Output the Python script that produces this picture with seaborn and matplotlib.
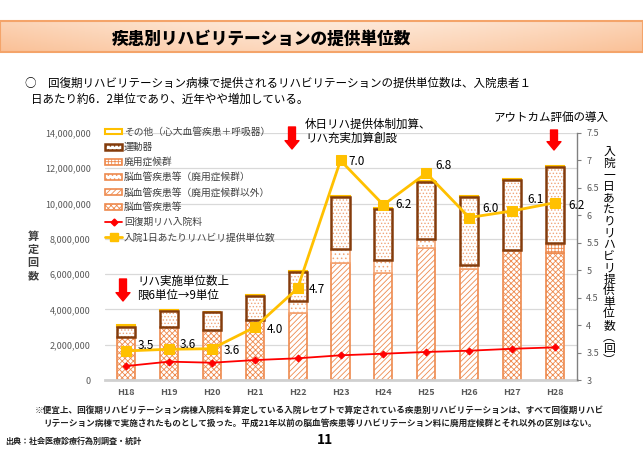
import numpy as np
import matplotlib
matplotlib.use('Agg')
import matplotlib.pyplot as plt
import seaborn as sns
from matplotlib.patches import Patch, Rectangle, FancyArrowPatch
from matplotlib.lines import Line2D
from matplotlib.ticker import FuncFormatter

years = ['H18', 'H19', 'H20', 'H21', 'H22', 'H23', 'H24', 'H25', 'H26', 'H27', 'H28']

# 算定回数 (百万回)
cerebro = [2.45, 3.02, 2.83, 3.40, 0, 0, 0, 0, 0, 7.37, 7.18]
cerebro_other = [0, 0, 0, 0, 3.82, 6.61, 6.05, 7.46, 6.29, 0, 0]
cerebro_disuse = [0, 0, 0, 0, 0.65, 0.79, 0.75, 0.53, 0.23, 0, 0]
disuse = [0, 0, 0, 0, 0, 0, 0, 0, 0, 0, 0.57]
locomotor = [0.57, 0.91, 1.00, 1.38, 1.63, 2.98, 2.87, 3.25, 3.87, 3.97, 4.31]
others = [0.10, 0.03, 0.03, 0.03, 0.08, 0.06, 0.06, 0.06, 0.06, 0.06, 0.06]
ward_fee = [0.79, 1.04, 0.98, 1.13, 1.23, 1.40, 1.49, 1.59, 1.66, 1.77, 1.85]

# 入院1日あたりリハビリ提供単位数
units_per_day = [3.53, 3.56, 3.57, 3.96, 4.67, 7.00, 6.19, 6.77, 5.96, 6.08, 6.23]

W, H = 643, 454
ORANGE = '#EE8A4E'
BROWN = '#843C0C'
YELLOW = '#FFC000'
GRAY = '#595959'

sns.set_theme(style='white')
plt.rcParams['font.family'] = ['Noto Sans CJK JP', 'DejaVu Sans']
plt.rcParams['hatch.linewidth'] = 0.6

fig = plt.figure(figsize=(W / 100, H / 100), dpi=100)

# title band
bax = fig.add_axes([0, 1 - 52 / H, 1, 31 / H])
gx = np.abs(np.linspace(-1, 1, 300))
gy = np.linspace(0, 1, 30)[:, None]
light = np.array([254, 234, 218]) / 255
dark = np.array([250, 192, 150]) / 255
t = np.clip(0.55 * gx[None, :] ** 1.5 + 0.45 * gy, 0, 1)
grad = light[None, None, :] * (1 - t[..., None]) + dark[None, None, :] * t[..., None]
bax.imshow(grad, aspect='auto', extent=[0, 1, 0, 1])
bax.add_patch(Rectangle((0, 0), 1, 1, fill=False, edgecolor='#F4A46A', lw=1.5,
                        transform=bax.transAxes, clip_on=False))
bax.set_axis_off()
fig.text(261 / W, 1 - 39 / H, '疾患別リハビリテーションの提供単位数', ha='center', va='center',
         fontsize=12, fontweight='heavy', color='black')

fig.text(25 / W, 1 - 83 / H, '○　回復期リハビリテーション病棟で提供されるリハビリテーションの提供単位数は、入院患者１',
         ha='left', va='center', fontsize=8.3, color='black')
fig.text(31 / W, 1 - 99 / H, '日あたり約6．2単位であり、近年やや増加している。',
         ha='left', va='center', fontsize=8.3, color='black')

ax = fig.add_axes([104.5 / W, (H - 380) / H, 472 / W, 247 / H])
ax2 = ax.twinx()

xs = np.arange(len(years))
bw = 0.42
scale = 1e6

layers = [
    (cerebro, dict(facecolor='white', edgecolor=ORANGE, hatch='xxxxxx', lw=1.2)),
    (cerebro_other, dict(facecolor='white', edgecolor=ORANGE, hatch='//////', lw=1.2)),
    (cerebro_disuse, dict(facecolor='white', edgecolor='#F4A574', hatch='....', lw=1.2)),
    (disuse, dict(facecolor='white', edgecolor=ORANGE, hatch='+++++', lw=1.2)),
    (locomotor, dict(facecolor='white', edgecolor='#EFA57A', hatch='.....', lw=0)),
    (others, dict(facecolor='white', edgecolor=YELLOW, lw=1.5)),
]
bottom = np.zeros(len(years))
for vals, style in layers:
    v = np.array(vals) * scale
    m = v > 0
    ax.bar(xs[m], v[m], bottom=bottom[m], width=bw, zorder=2, **style)
    if vals is locomotor:
        ax.bar(xs[m], v[m], bottom=bottom[m], width=bw, zorder=2.5,
               facecolor='none', edgecolor=BROWN, lw=1.8)
    bottom += v

sns.lineplot(x=xs, y=np.array(ward_fee) * scale, ax=ax, color='red', lw=1.3,
             marker='D', markersize=3.5, markeredgecolor='red', zorder=4)

ax.set_xlim(-0.5, len(years) - 0.5)
ax.set_ylim(0, 14e6)
ax.set_yticks(np.arange(0, 14.1e6, 2e6))
ax.yaxis.set_major_formatter(FuncFormatter(lambda v, p: f'{v:,.0f}'))
ax.yaxis.grid(True, color='#D9D9D9', lw=0.9)
ax.set_axisbelow(True)
ax.set_xticks(xs)
ax.set_xticklabels(years, fontweight='bold')
ax.tick_params(axis='y', length=0, labelsize=6.5, labelcolor=GRAY, pad=10)
ax.tick_params(axis='x', length=0, labelsize=6.5, labelcolor=GRAY, pad=6)
for s in ['left', 'top', 'right']:
    ax.spines[s].set_visible(False)
ax.spines['bottom'].set_color('#D0D0D0')
ax.spines['bottom'].set_linewidth(2)

sns.lineplot(x=xs, y=units_per_day, ax=ax2, color=YELLOW, lw=2, marker='s',
             markersize=6.5, markeredgecolor=YELLOW, zorder=5)
ax2.set_ylim(3, 7.5)
ax2.set_yticks(np.arange(3, 7.51, 0.5))
ax2.yaxis.set_major_formatter(FuncFormatter(lambda v, p: f'{v:g}'))
ax2.tick_params(axis='y', length=3, color='#808080', labelsize=6.5, labelcolor=GRAY, pad=4, width=0.8)
for s in ['left', 'top', 'bottom']:
    ax2.spines[s].set_visible(False)
ax2.spines['right'].set_color('#808080')
ax2.spines['right'].set_linewidth(1)

label_offsets = [(12, 5), (11, 5), (12, -2), (12, -2), (11, -1), (8, -1),
                 (12, 0), (9, 8), (13, 9), (15, 11), (13, -3)]
for i, v in enumerate(units_per_day):
    dx, dy = label_offsets[i]
    ax2.annotate(f'{v:.1f}', (xs[i], v), xytext=(dx * 0.72, dy * 0.72), textcoords='offset points',
                 ha='left', va='center', fontsize=8.5, color='black', zorder=6)

# legend
handles = [
    Patch(facecolor='white', edgecolor=YELLOW, lw=1.5),
    Patch(facecolor='white', edgecolor=BROWN, hatch='....', lw=1.8),
    Patch(facecolor='white', edgecolor=ORANGE, hatch='+++++', lw=1.2),
    Patch(facecolor='white', edgecolor=ORANGE, hatch='....', lw=1.2),
    Patch(facecolor='white', edgecolor=ORANGE, hatch='//////', lw=1.2),
    Patch(facecolor='white', edgecolor=ORANGE, hatch='xxxxxx', lw=1.2),
    Line2D([], [], color='red', lw=1.3, marker='D', markersize=3.5),
    Line2D([], [], color=YELLOW, lw=2, marker='s', markersize=5.5),
]
labels = ['その他（心大血管疾患＋呼吸器）', '運動器', '廃用症候群', '脳血管疾患等（廃用症候群）',
          '脳血管疾患等（廃用症候群以外）', '脳血管疾患等', '回復期リハ入院料', '入院1日あたりリハビリ提供単位数']
leg = ax2.legend(handles, labels, loc='upper left', bbox_to_anchor=(105 / W, 1 - 127 / H),
                 bbox_transform=fig.transFigure, frameon=False, fontsize=7, handlelength=1.75,
                 handleheight=0.55, labelspacing=0.52, handletextpad=0.2, borderpad=0, borderaxespad=0)
for txt in leg.get_texts():
    txt.set_color('#404040')

# axis titles (vertical)
fig.text(33 / W, 1 - 256 / H, '\n'.join('算定回数'), ha='center', va='center', fontsize=8,
         fontweight='bold', color='#404040', linespacing=1.0)
fig.text(609 / W, 1 - 256 / H, '\n'.join('入院一日あたりリハビリ提供単位数') + '\n︵\n回\n︶',
         ha='center', va='center', fontsize=8.5, color='black', linespacing=0.86)


def down_arrow(x, y0, y1):
    fig.add_artist(FancyArrowPatch((x / W, 1 - y0 / H), (x / W, 1 - y1 / H), transform=fig.transFigure,
                                   arrowstyle='simple,head_width=1.0,head_length=0.6,tail_width=0.5',
                                   mutation_scale=10, color='#FF0000', shrinkA=0, shrinkB=0))


down_arrow(123, 279, 301)
fig.text(137 / W, 1 - 288 / H, 'リハ実施単位数上\n限6単位→9単位', ha='left', va='center',
         fontsize=8.3, color='black', linespacing=1.1)
down_arrow(292, 127, 149)
fig.text(305 / W, 1 - 131 / H, '休日リハ提供体制加算、\nリハ充実加算創設', ha='left', va='center',
         fontsize=8.3, color='black', linespacing=1.1)
down_arrow(554, 130, 150)
fig.text(551 / W, 1 - 118 / H, 'アウトカム評価の導入', ha='center', va='center',
         fontsize=8.3, color='black')

fig.text(35 / W, 1 - 410 / H, '※便宜上、回復期リハビリテーション病棟入院料を算定している入院レセプトで算定されている疾患別リハビリテーションは、すべて回復期リハビ',
         ha='left', va='center', fontsize=6.2, fontweight='bold', color='#222222')
fig.text(43 / W, 1 - 423 / H, 'リテーション病棟で実施されたものとして扱った。平成21年以前の脳血管疾患等リハビリテーション料に廃用症候群とそれ以外の区別はない。',
         ha='left', va='center', fontsize=6.2, fontweight='bold', color='#222222')
fig.text(5 / W, 1 - 441 / H, '出典：社会医療診療行為別調査・統計', ha='left', va='center',
         fontsize=5.8, fontweight='bold', color='#222222')
fig.text(325 / W, 1 - 440 / H, '11', ha='center', va='center', fontsize=10, fontweight='bold', color='black')

fig.savefig('out.png', dpi=100)
